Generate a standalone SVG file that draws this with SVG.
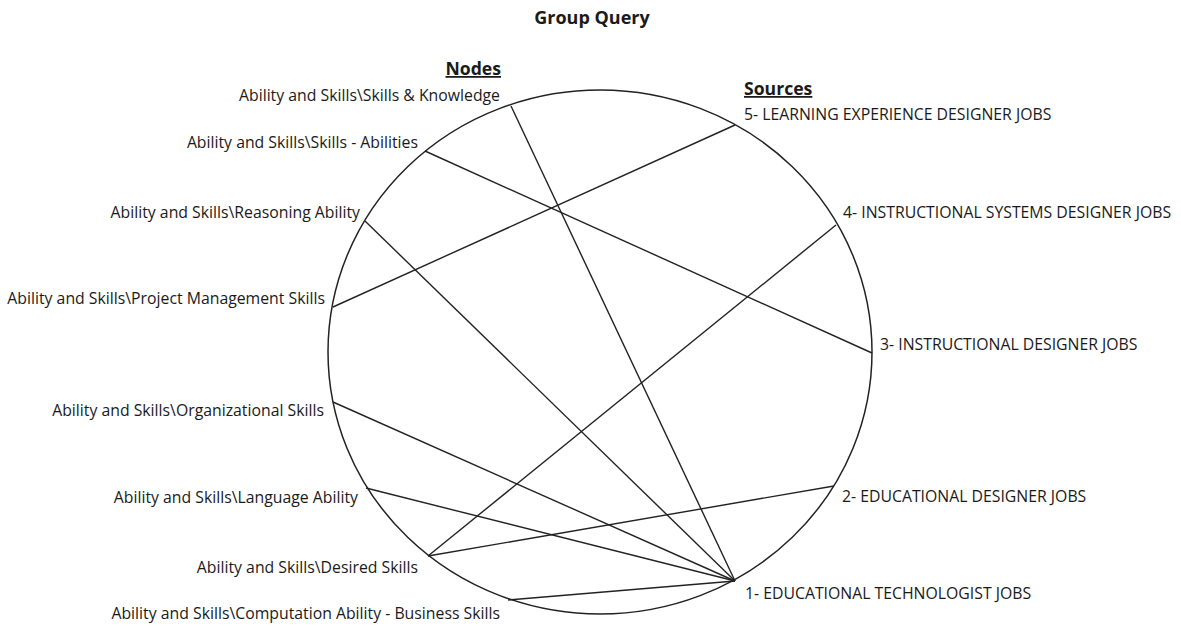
<svg xmlns="http://www.w3.org/2000/svg" width="1181" height="626" viewBox="0 0 1181 626">
<style>
text{font-family:"Open Sans","Noto Sans","Liberation Sans",sans-serif;fill:#1a1a1a;font-size:15.8px}
.title{font-weight:bold;font-size:18px}
.hdr{font-weight:bold;font-size:17.6px;text-decoration:underline}
.node{text-anchor:end}
.edge{stroke:#222;stroke-width:1.4;fill:none}
.ring{stroke:#222;stroke-width:1.5;fill:none}
</style>
<rect width="1181" height="626" fill="#ffffff"/>
<text class="title" x="592" y="24" text-anchor="middle">Group Query</text>
<text class="hdr" x="501" y="75" text-anchor="end">Nodes</text>
<text class="hdr" x="744" y="95">Sources</text>
<ellipse class="ring" cx="600" cy="352" rx="272" ry="262"/>
<g id="connectors">
<line class="edge" x1="511" y1="106" x2="735" y2="581"/>
<line class="edge" x1="425" y1="151" x2="872" y2="353"/>
<line class="edge" x1="365" y1="221" x2="735" y2="581"/>
<line class="edge" x1="333" y1="307" x2="735" y2="125"/>
<line class="edge" x1="333" y1="402" x2="735" y2="581"/>
<line class="edge" x1="366" y1="488" x2="735" y2="581"/>
<line class="edge" x1="428" y1="556" x2="836" y2="225"/>
<line class="edge" x1="428" y1="556" x2="834" y2="486"/>
<line class="edge" x1="508" y1="600" x2="735" y2="581"/>
</g>
<g id="n-skills-knowledge"><text class="node" x="500" y="101">Ability and Skills\Skills &amp; Knowledge</text></g>
<g id="n-skills-abilities"><text class="node" x="418" y="148">Ability and Skills\Skills - Abilities</text></g>
<g id="n-reasoning"><text class="node" x="360" y="218">Ability and Skills\Reasoning Ability</text></g>
<g id="n-project"><text class="node" x="325" y="304">Ability and Skills\Project Management Skills</text></g>
<g id="n-organizational"><text class="node" x="324" y="416">Ability and Skills\Organizational Skills</text></g>
<g id="n-language"><text class="node" x="358" y="503">Ability and Skills\Language Ability</text></g>
<g id="n-desired"><text class="node" x="418" y="573">Ability and Skills\Desired Skills</text></g>
<g id="n-computation"><text class="node" x="500" y="619">Ability and Skills\Computation Ability - Business Skills</text></g>
<g id="s5"><text x="744" y="120">5- LEARNING EXPERIENCE DESIGNER JOBS</text></g>
<g id="s4"><text x="843" y="218">4- INSTRUCTIONAL SYSTEMS DESIGNER JOBS</text></g>
<g id="s3"><text x="880" y="350">3- INSTRUCTIONAL DESIGNER JOBS</text></g>
<g id="s2"><text x="842" y="502">2- EDUCATIONAL DESIGNER JOBS</text></g>
<g id="s1"><text x="745" y="599">1- EDUCATIONAL TECHNOLOGIST JOBS</text></g>
</svg>
